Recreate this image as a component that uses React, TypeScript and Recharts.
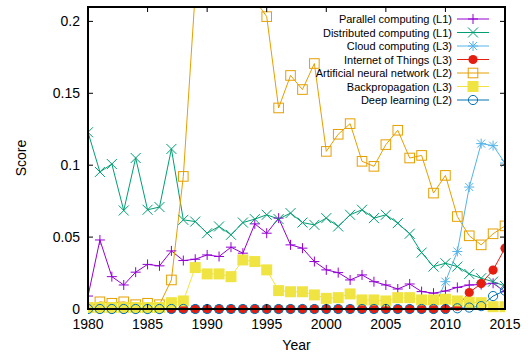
import React from 'react';
import { LineChart, Line, XAxis, YAxis, Legend, Label } from 'recharts';

// years on the x axis
const years = [
  1980, 1981, 1982, 1983, 1984, 1985, 1986, 1987, 1988, 1989,
  1990, 1991, 1992, 1993, 1994, 1995, 1996, 1997, 1998, 1999,
  2000, 2001, 2002, 2003, 2004, 2005, 2006, 2007, 2008, 2009,
  2010, 2011, 2012, 2013, 2014, 2015,
];

const parallel = [
  0.009, 0.048, 0.0225, 0.0167, 0.0256, 0.031, 0.030, 0.0404, 0.0337, 0.0346,
  0.0376, 0.0365, 0.043, 0.0388, 0.0592, 0.0527, 0.0632, 0.0446, 0.0423, 0.033,
  0.0272, 0.0253, 0.0202, 0.0237, 0.019, 0.0167, 0.0139, 0.0174, 0.0121, 0.011,
  0.0125, 0.015, 0.0167, 0.017, 0.0179, 0.012,
];
const distributed = [
  0.1229, 0.0953, 0.1008, 0.0685, 0.105, 0.069, 0.0709, 0.1113, 0.062, 0.0608,
  0.0527, 0.0574, 0.0516, 0.0601, 0.0625, 0.0655, 0.0625, 0.0667, 0.0601, 0.0585,
  0.0632, 0.0574, 0.0655, 0.069, 0.0632, 0.0655, 0.0597, 0.0523, 0.0392, 0.0295,
  0.0318, 0.0295, 0.0244, 0.0214, 0.019, 0.016,
];
const cloud = [
  0, 0, 0, 0, 0, 0, 0, 0, 0, 0,
  0, 0, 0, 0, 0, 0, 0, 0, 0, 0,
  0, 0, 0, 0, 0, 0, 0, 0, 0, 0,
  0.019, 0.04, 0.0848, 0.115, 0.1136, 0.1015,
];
const iot = [
  0, 0, 0, 0, 0, 0, 0, 0, 0, 0,
  0, 0, 0, 0, 0, 0, 0, 0, 0, 0,
  0, 0, 0, 0, 0, 0, 0, 0, 0, 0,
  0, 0.002, 0.0114, 0.0177, 0.0271, 0.0423,
];
// 1989-1994 go off the top of the plot
const ann = [
  0.001, 0.005, 0.004, 0.005, 0.003, 0.004, 0.003, 0.0202, 0.0922, 0.22,
  0.26, 0.28, 0.27, 0.25, 0.215, 0.2033, 0.1398, 0.1624, 0.1526, 0.1707,
  0.1096, 0.1215, 0.1289, 0.1027, 0.0992, 0.1143, 0.1243, 0.105, 0.1068, 0.0806,
  0.0929, 0.0643, 0.0509, 0.0446, 0.0523, 0.0578,
];
const backprop = [
  0.001, 0.001, 0.001, 0.001, 0.001, 0.001, 0.001, 0.0044, 0.0056, 0.0288,
  0.0244, 0.0244, 0.0225, 0.0341, 0.033, 0.0272, 0.0128, 0.012, 0.012, 0.0098,
  0.0074, 0.0079, 0.0105, 0.0063, 0.0063, 0.0056, 0.0079, 0.0079, 0.0063, 0.0063,
  0.0068, 0.0056, 0.0047, 0.0044, 0.0016, 0.0016,
];
const deep = [
  0, 0, 0, 0, 0, 0, 0, 0, 0, 0,
  0, 0, 0, 0, 0, 0, 0, 0, 0, 0,
  0, 0, 0, 0, 0, 0, 0, 0, 0, 0,
  0, 0.0005, 0.001, 0.002, 0.009, 0.0128,
];

const seriesNames = [
  'Parallel computing (L1)',
  'Distributed computing (L1)',
  'Cloud computing (L3)',
  'Internet of Things (L3)',
  'Artificial neural network (L2)',
  'Backpropagation (L3)',
  'Deep learning (L2)',
];

const xTicks = [1980, 1985, 1990, 1995, 2000, 2005, 2010, 2015];
const yTicks = [0, 0.05, 0.1, 0.15, 0.2];
const yTickLabels = ['0', '0.05', '0.1', '0.15', '0.2'];

const X_MIN = 1980;
const X_MAX = 2015;
const Y_MAX = 0.21;
const FONT = '"Liberation Sans", Arial, Helvetica, sans-serif';
const BORDER = '#000';

// plot box in page pixels
const LEFT = 88;
const RIGHT = 505;
const TOP = 7;
const BOTTOM = 309;
const TICK = 5;

const rows = years.map((year, i) => ({
  year,
  parallel: parallel[i],
  distributed: distributed[i],
  cloud: cloud[i],
  iot: iot[i],
  ann: ann[i],
  annDots: ann[i] <= Y_MAX ? ann[i] : null,
  backprop: backprop[i],
  deep: deep[i],
}));

const series = [
  { key: 'parallel', color: '#9400d3', kind: 'plus' },
  { key: 'distributed', color: '#009e73', kind: 'cross' },
  { key: 'cloud', color: '#56b4e9', kind: 'star' },
  { key: 'iot', color: '#e51e10', kind: 'disc' },
  { key: 'ann', color: '#e69f00', kind: 'box' },
  { key: 'backprop', color: '#f0e442', kind: 'block' },
  { key: 'deep', color: '#0072b2', kind: 'ring' },
];

type MarkerProps = { cx?: number | null; cy?: number | null; kind: string; color: string };

function Marker({ cx, cy, kind, color }: MarkerProps) {
  if (cx == null || cy == null || Number.isNaN(cx) || Number.isNaN(cy)) return <g />;
  switch (kind) {
    case 'plus':
      return <path d={`M${cx - 5},${cy}H${cx + 5}M${cx},${cy - 5}V${cy + 5}`} stroke={color} strokeWidth={1} fill="none" />;
    case 'cross':
      return <path d={`M${cx - 5},${cy - 5}L${cx + 5},${cy + 5}M${cx - 5},${cy + 5}L${cx + 5},${cy - 5}`} stroke={color} strokeWidth={1} fill="none" />;
    case 'star':
      return (
        <path
          d={`M${cx - 5},${cy}H${cx + 5}M${cx},${cy - 5}V${cy + 5}M${cx - 4},${cy - 4}L${cx + 4},${cy + 4}M${cx - 4},${cy + 4}L${cx + 4},${cy - 4}`}
          stroke={color} strokeWidth={1} fill="none"
        />
      );
    case 'disc':
      return <circle cx={cx} cy={cy} r={4.6} fill={color} stroke="none" />;
    case 'box':
      return <rect x={cx - 4.8} y={cy - 4.8} width={9.6} height={9.6} fill="none" stroke={color} strokeWidth={1} />;
    case 'block':
      return <rect x={cx - 5.5} y={cy - 5.5} width={11} height={11} fill={color} stroke="none" />;
    case 'ring':
      return <circle cx={cx} cy={cy} r={4.6} fill="none" stroke={color} strokeWidth={1} />;
    default:
      return <g />;
  }
}

// inward ticks, gnuplot style
const BottomTick = ({ x, payload }: any) => (
  <g>
    <line x1={x} x2={x} y1={BOTTOM} y2={BOTTOM - TICK} stroke={BORDER} strokeWidth={1} />
    <text x={x} y={329} textAnchor="middle" fontSize={14} fill="#000" fontFamily={FONT}>
      {payload.value}
    </text>
  </g>
);

const TopTick = ({ x }: any) => (
  <line x1={x} x2={x} y1={TOP} y2={TOP + TICK} stroke={BORDER} strokeWidth={1} />
);

const LeftTick = ({ y, payload }: any) => (
  <g>
    <line x1={LEFT} x2={LEFT + TICK} y1={y} y2={y} stroke={BORDER} strokeWidth={1} />
    <text x={80} y={y} dy={5} textAnchor="end" fontSize={14} fill="#000" fontFamily={FONT}>
      {yTickLabels[yTicks.indexOf(payload.value)] ?? String(payload.value)}
    </text>
  </g>
);

const RightTick = ({ y }: any) => (
  <line x1={RIGHT} x2={RIGHT - TICK} y1={y} y2={y} stroke={BORDER} strokeWidth={1} />
);

// key box plus the border, laid over the plot like gnuplot does
function LegendBox() {
  return (
    <svg width={531} height={356} style={{ display: 'block', fontFamily: FONT }}>
      <rect x={LEFT} y={TOP} width={RIGHT - LEFT} height={BOTTOM - TOP} fill="none" stroke={BORDER} strokeWidth={2} />
      {series.map((s, i) => {
        const y = 19 + i * 13.5;
        return (
          <g key={s.key}>
            <text x={452} y={y} dy={4} textAnchor="end" fontSize={11} fill="#000">
              {seriesNames[i]}
            </text>
            <line x1={457} x2={489} y1={y} y2={y} stroke={s.color} strokeWidth={1} />
            <Marker cx={473} cy={y} kind={s.kind} color={s.color} />
          </g>
        );
      })}
    </svg>
  );
}

const frame = { stroke: BORDER, strokeWidth: 2 };

export default function App() {
  return (
    <div style={{ position: 'absolute', left: 0, top: 0, fontFamily: FONT }}>
      <LineChart width={531} height={356} data={rows} margin={{ top: 6, right: 25, bottom: 0, left: 0 }}>
        <XAxis
          dataKey="year"
          type="number"
          domain={[X_MIN, X_MAX]}
          ticks={xTicks}
          allowDataOverflow
          height={47}
          tick={<BottomTick />}
          tickLine={false}
          axisLine={frame}
        >
          <Label value="Year" position="insideBottom" offset={6} style={{ fontSize: 14, fill: '#000', fontFamily: FONT }} />
        </XAxis>
        <XAxis
          xAxisId="top"
          orientation="top"
          dataKey="year"
          type="number"
          domain={[X_MIN, X_MAX]}
          ticks={xTicks}
          allowDataOverflow
          height={1}
          tick={<TopTick />}
          tickLine={false}
          axisLine={frame}
        />
        <YAxis
          yAxisId="left"
          type="number"
          domain={[0, Y_MAX]}
          ticks={yTicks}
          width={88}
          tick={<LeftTick />}
          tickLine={false}
          axisLine={frame}
        >
          <Label
            content={() => (
              <text
                x={21}
                y={158}
                transform="rotate(-90 21 158)"
                textAnchor="middle"
                dy={5}
                fontSize={14}
                fill="#000"
                fontFamily={FONT}
              >
                Score
              </text>
            )}
          />
        </YAxis>
        {/* right axis also carries the ANN line, which runs off the top */}
        <YAxis
          yAxisId="right"
          orientation="right"
          type="number"
          domain={[0, Y_MAX]}
          ticks={yTicks}
          allowDataOverflow
          width={1}
          tick={<RightTick />}
          tickLine={false}
          axisLine={frame}
        />

        {series.map((s) => {
          if (s.key === 'ann') {
            return [
              <Line
                key="ann-line"
                yAxisId="right"
                dataKey="ann"
                stroke={s.color}
                strokeWidth={1}
                fill="none"
                dot={false}
                activeDot={false}
                isAnimationActive={false}
                type="linear"
              />,
              <Line
                key="ann-dots"
                yAxisId="left"
                dataKey="annDots"
                stroke="none"
                fill="none"
                connectNulls={false}
                dot={(p: any) => <Marker key={`ann-${p.index}`} cx={p.cx} cy={p.cy} kind={s.kind} color={s.color} />}
                activeDot={false}
                isAnimationActive={false}
                type="linear"
              />,
            ];
          }
          return (
            <Line
              key={s.key}
              yAxisId="left"
              dataKey={s.key}
              stroke={s.color}
              strokeWidth={1}
              fill="none"
              dot={(p: any) => <Marker key={`${s.key}-${p.index}`} cx={p.cx} cy={p.cy} kind={s.kind} color={s.color} />}
              activeDot={false}
              isAnimationActive={false}
              type="linear"
            />
          );
        })}

        <Legend
          layout="vertical"
          align="center"
          verticalAlign="middle"
          content={() => <LegendBox />}
          wrapperStyle={{ left: 0, top: 0, width: 531, height: 356, pointerEvents: 'none' }}
        />
      </LineChart>
    </div>
  );
}
